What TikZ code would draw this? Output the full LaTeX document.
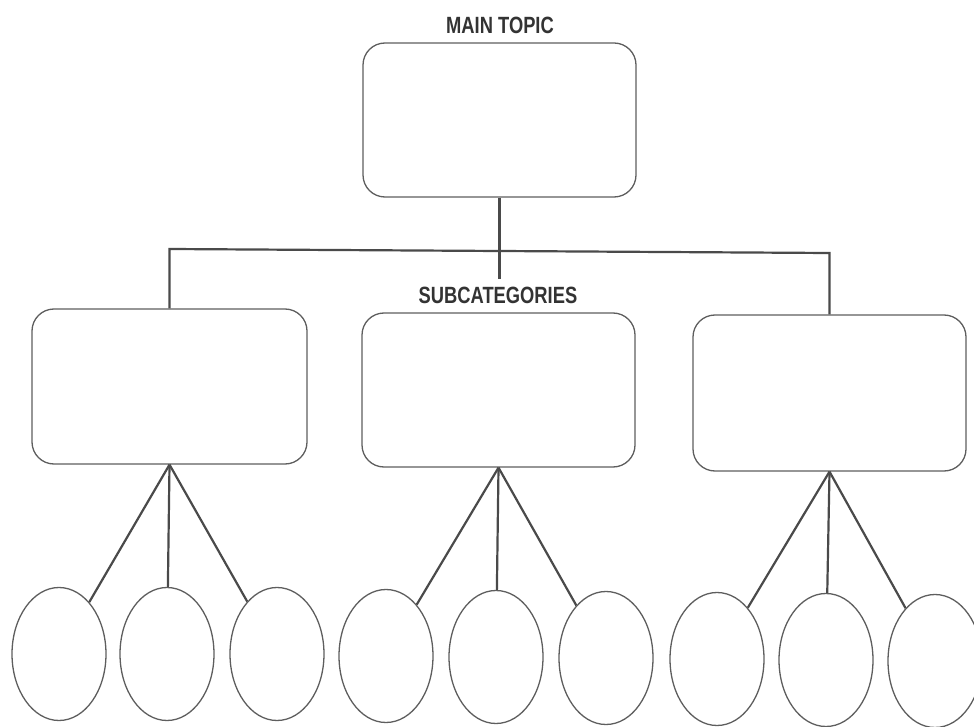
\documentclass[tikz,border=0pt]{standalone}
\usepackage{fontspec}
\setmainfont{Liberation Sans}
\usetikzlibrary{shapes.geometric}
\definecolor{inkline}{HTML}{4A4A4A}
\definecolor{inkbox}{HTML}{5E5E5E}
\definecolor{inktext}{HTML}{333333}
\tikzset{
  topicbox/.style={draw=inkbox, line width=1.3pt, rounded corners=22pt, inner sep=0pt,
    minimum width=273pt, minimum height=154pt},
  leaf/.style={draw=inkbox, line width=1.3pt, ellipse, inner sep=0pt,
    minimum width=94pt, minimum height=133pt},
  trunk/.style={draw=inkline, line width=2.2pt},
  heading/.style={text=inktext, inner sep=0pt,
    font=\bfseries\fontsize{23.5}{24}\selectfont}
}
\newcommand{\narrowcaps}[1]{\scalebox{0.78}[1]{#1}}
\begin{document}
\begin{tikzpicture}[x=1pt, y=-1pt]
  \useasboundingbox (0,0) rectangle (974,727);

  % headings
  \node[heading] (maintitle) at (500,25) {\narrowcaps{MAIN TOPIC}};
  \node[heading] (subtitle) at (498,295) {\narrowcaps{SUBCATEGORIES}};

  % boxes
  \node[topicbox] (main)  at (499.5,120) {};
  \node[topicbox, minimum width=275pt, minimum height=155pt] (left) at (169.5,386.5) {};
  \node[topicbox] (mid)   at (498.5,390) {};
  \node[topicbox, minimum height=156pt] (right) at (829.5,393) {};

  % ovals
  \node[leaf] (a1) at (59,654) {};
  \node[leaf] (a2) at (167,654) {};
  \node[leaf] (a3) at (277,654) {};
  \node[leaf] (b1) at (386,656) {};
  \node[leaf] (b2) at (496,657) {};
  \node[leaf] (b3) at (606,658) {};
  \node[leaf] (c1) at (717,659) {};
  \node[leaf] (c2) at (826,660) {};
  \node[leaf] (c3) at (935,661) {};

  % tree from the main topic to the subcategories
  \coordinate (hl) at (169.5,249);
  \coordinate (hr) at (829.5,253);
  \coordinate (stem) at (499.5,279);
  \draw[trunk] (main.south) -- (stem);
  \draw[trunk] (left.north) -- (hl) -- (hr) -- (right.north);

  % branches to the ovals
  \foreach \b/\o in {left/a1, left/a2, left/a3, mid/b1, mid/b2, mid/b3, right/c1, right/c2, right/c3}
    \draw[trunk] (\b.south) -- (\o);
\end{tikzpicture}
\end{document}
